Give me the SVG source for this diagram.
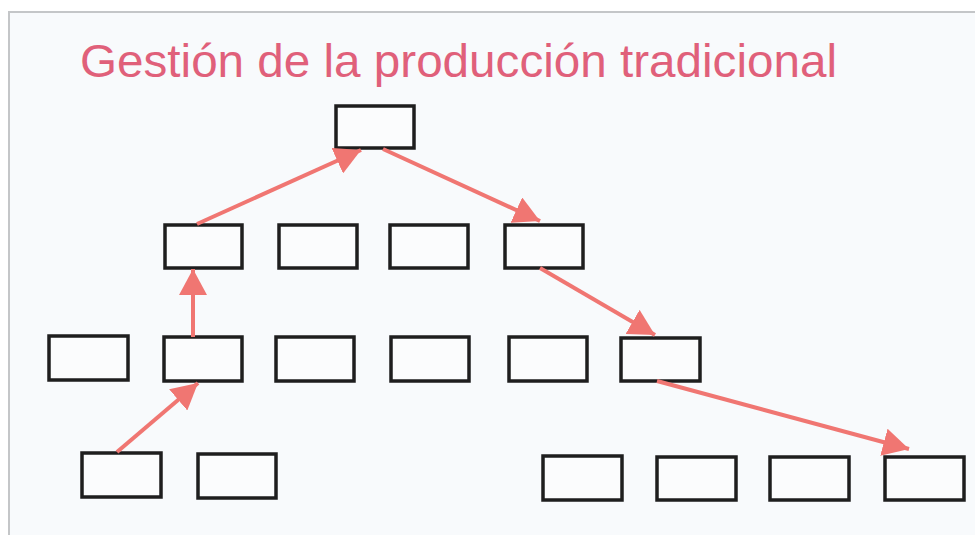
<svg xmlns="http://www.w3.org/2000/svg" width="975" height="535" viewBox="0 0 975 535">
  <defs>
    <marker id="ah" viewBox="0 0 26 28" refX="26" refY="14" markerWidth="26" markerHeight="28" markerUnits="userSpaceOnUse" orient="auto">
      <path d="M0,0 L26,14 L0,28 Z" fill="#f07672"/>
    </marker>
    <style>
      .box { fill: #fbfcfd; stroke: #1e1e1e; stroke-width: 3.5; }
      .arr { stroke: #f07672; stroke-width: 4; fill: none; marker-end: url(#ah); }
      .title { font-family: "Liberation Sans", Arial, sans-serif; font-size: 46px; fill: #e0607a; }
    </style>
  </defs>
  <rect x="0" y="0" width="975" height="535" fill="#ffffff"/>
  <rect x="9" y="12" width="980" height="540" fill="#f8fafc" stroke="#c4c6c8" stroke-width="2"/>
  <text class="title" x="80" y="77" textLength="757" lengthAdjust="spacingAndGlyphs">Gestión de la producción tradicional</text>

  <g id="n0"><rect class="box" x="336" y="106" width="78" height="42"/></g>

  <g id="n1"><rect class="box" x="165" y="225" width="77" height="43"/></g>
  <g id="n2"><rect class="box" x="279" y="225" width="78" height="43"/></g>
  <g id="n3"><rect class="box" x="390" y="225" width="78" height="43"/></g>
  <g id="n4"><rect class="box" x="505" y="225" width="78" height="43"/></g>

  <g id="n5"><rect class="box" x="49" y="336" width="79" height="44"/></g>
  <g id="n6"><rect class="box" x="164" y="337" width="78" height="44"/></g>
  <g id="n7"><rect class="box" x="276" y="337" width="78" height="44"/></g>
  <g id="n8"><rect class="box" x="391" y="337" width="78" height="44"/></g>
  <g id="n9"><rect class="box" x="509" y="337" width="78" height="44"/></g>
  <g id="n10"><rect class="box" x="621" y="338" width="79" height="43"/></g>

  <g id="n11"><rect class="box" x="82" y="453" width="79" height="44"/></g>
  <g id="n12"><rect class="box" x="198" y="454" width="78" height="44"/></g>
  <g id="n13"><rect class="box" x="543" y="456" width="79" height="44"/></g>
  <g id="n14"><rect class="box" x="657" y="457" width="79" height="43"/></g>
  <g id="n15"><rect class="box" x="770" y="457" width="79" height="43"/></g>
  <g id="n16"><rect class="box" x="885" y="457" width="79" height="43"/></g>

  <g id="connectors">
    <line class="arr" x1="197" y1="224" x2="361" y2="150"/>
    <line class="arr" x1="383" y1="149" x2="540" y2="221"/>
    <line class="arr" x1="193" y1="337" x2="193" y2="269"/>
    <line class="arr" x1="117" y1="452" x2="198" y2="383"/>
    <line class="arr" x1="540" y1="268" x2="655" y2="335"/>
    <line class="arr" x1="657" y1="381" x2="909" y2="449"/>
  </g>
</svg>
